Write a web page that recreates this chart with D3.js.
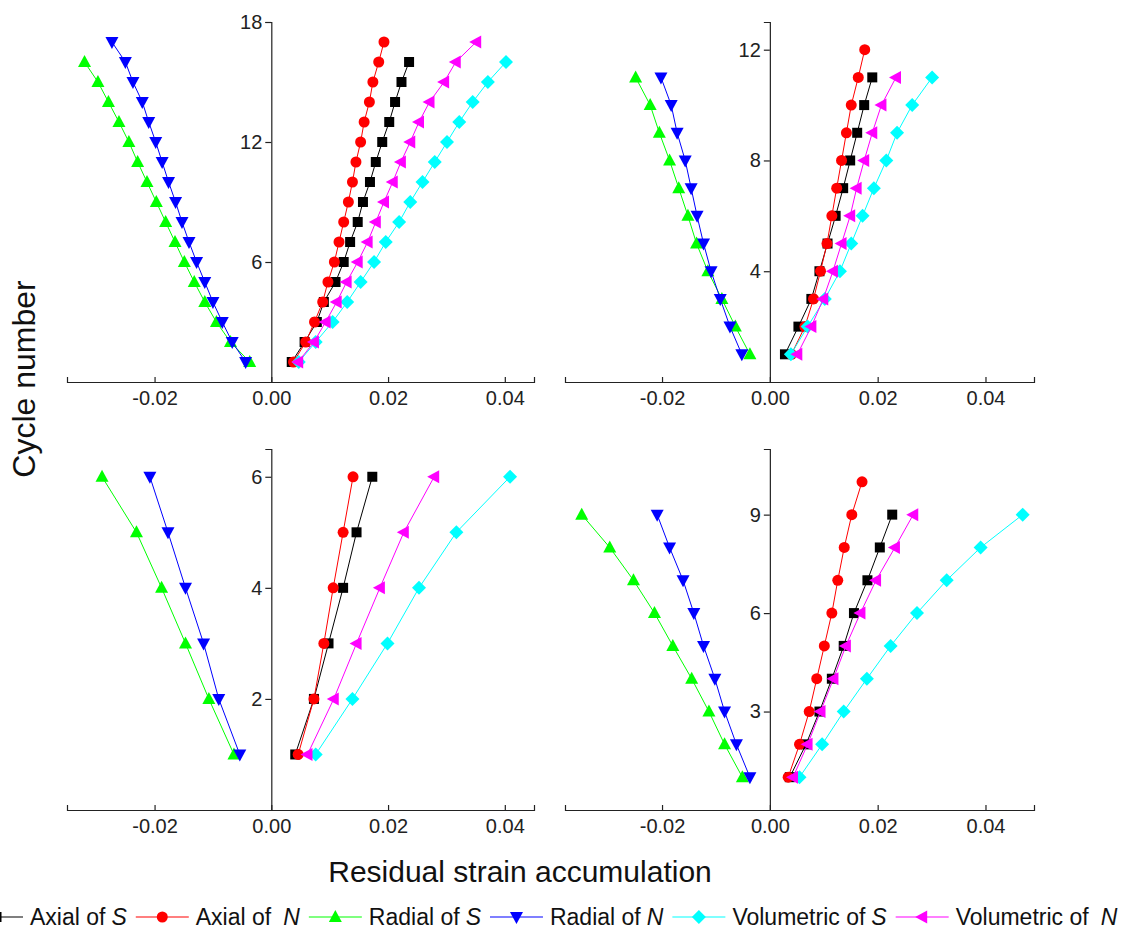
<!DOCTYPE html>
<html>
<head>
<meta charset="utf-8">
<script src="https://cdn.jsdelivr.net/npm/d3@7"></script>
<style>
  body { margin: 0; background: #fff; }
  svg { display: block; font-family: "Liberation Sans", Arial, sans-serif; }
</style>
</head>
<body>
<div id="container"></div>
<script>
// series order: Axial of S, Axial of N, Radial of S, Radial of N, Volumetric of S, Volumetric of N
var seriesLabels = [["Axial of", "S", 0], ["Axial of", "N", 6], ["Radial of", "S", 0], ["Radial of", "N", 0], ["Volumetric of", "S", 0], ["Volumetric of", "N", 6]];
var seriesColors = ["#000000", "#ff0000", "#00ff00", "#0000ff", "#00ffff", "#ff00ff"];
var seriesMarkers = ["square", "circle", "up", "down", "diamond", "left"];

// panel a (top left), values for cycle 1..n
var axialS_a  = [0.0035, 0.0057, 0.0078, 0.0090, 0.0110, 0.0124, 0.0135, 0.0148, 0.0157, 0.0169, 0.0179, 0.0190, 0.0202, 0.0212, 0.0223, 0.0236];
var axialN_a  = [0.0038, 0.0059, 0.0074, 0.0088, 0.0097, 0.0108, 0.0116, 0.0124, 0.0132, 0.0139, 0.0145, 0.0153, 0.0159, 0.0168, 0.0174, 0.0184, 0.0193];
var radialS_a = [-0.0037, -0.0070, -0.0094, -0.0114, -0.0132, -0.0149, -0.0165, -0.0181, -0.0197, -0.0213, -0.0229, -0.0244, -0.0261, -0.0279, -0.0297, -0.0320];
var radialN_a = [-0.0044, -0.0067, -0.0084, -0.0100, -0.0114, -0.0128, -0.0141, -0.0153, -0.0164, -0.0176, -0.0187, -0.0198, -0.0210, -0.0221, -0.0237, -0.0250, -0.0273];
var volS_a    = [0.0047, 0.0076, 0.0105, 0.0130, 0.0153, 0.0176, 0.0196, 0.0219, 0.0238, 0.0259, 0.0280, 0.0301, 0.0322, 0.0345, 0.0371, 0.0402];
var volN_a    = [0.0046, 0.0073, 0.0093, 0.0112, 0.0129, 0.0148, 0.0165, 0.0179, 0.0193, 0.0208, 0.0222, 0.0238, 0.0253, 0.0271, 0.0296, 0.0316, 0.0351];

// panel b (top right)
var axialS_b  = [0.0028, 0.0053, 0.0077, 0.0092, 0.0107, 0.0122, 0.0136, 0.0149, 0.0162, 0.0175, 0.0190];
var axialN_b  = [0.0040, 0.0065, 0.0081, 0.0094, 0.0106, 0.0115, 0.0124, 0.0133, 0.0142, 0.0151, 0.0164, 0.0176];
var radialS_b = [-0.0037, -0.0064, -0.0089, -0.0115, -0.0136, -0.0152, -0.0169, -0.0186, -0.0205, -0.0222, -0.0249];
var radialN_b = [-0.0052, -0.0074, -0.0092, -0.0109, -0.0123, -0.0135, -0.0146, -0.0157, -0.0172, -0.0183, -0.0202];
var volS_b    = [0.0039, 0.0070, 0.0102, 0.0130, 0.0151, 0.0172, 0.0193, 0.0216, 0.0236, 0.0264, 0.0301];
var volN_b    = [0.0051, 0.0077, 0.0099, 0.0117, 0.0133, 0.0149, 0.0161, 0.0175, 0.0190, 0.0207, 0.0234];

// panel c (bottom left)
var axialS_c  = [0.0041, 0.0073, 0.0098, 0.0123, 0.0146, 0.0173];
var axialN_c  = [0.0046, 0.0073, 0.0090, 0.0106, 0.0123, 0.0140];
var radialS_c = [-0.0064, -0.0107, -0.0147, -0.0188, -0.0231, -0.0290];
var radialN_c = [-0.0054, -0.0090, -0.0116, -0.0147, -0.0177, -0.0208];
var volS_c    = [0.0076, 0.0139, 0.0199, 0.0253, 0.0317, 0.0409];
var volN_c    = [0.0062, 0.0107, 0.0146, 0.0186, 0.0227, 0.0279];

// panel d (bottom right)
var axialS_d  = [0.0037, 0.0067, 0.0092, 0.0115, 0.0137, 0.0156, 0.0181, 0.0204, 0.0227];
var axialN_d  = [0.0034, 0.0055, 0.0073, 0.0087, 0.0101, 0.0115, 0.0126, 0.0138, 0.0152, 0.0171];
var radialS_d = [-0.0051, -0.0084, -0.0113, -0.0145, -0.0180, -0.0214, -0.0253, -0.0297, -0.0349];
var radialN_d = [-0.0037, -0.0062, -0.0084, -0.0102, -0.0123, -0.0141, -0.0161, -0.0186, -0.0209];
var volS_d    = [0.0055, 0.0097, 0.0137, 0.0180, 0.0224, 0.0273, 0.0328, 0.0391, 0.0469];
var volN_d    = [0.0043, 0.0070, 0.0094, 0.0118, 0.0141, 0.0168, 0.0197, 0.0232, 0.0266];

// axis ticks
var xTicks = [-0.02, 0, 0.02, 0.04];
var yTicks_a = [6, 12, 18];
var yTicks_b = [4, 8, 12];
var yTicks_c = [2, 4, 6];
var yTicks_d = [3, 6, 9];

//Svg Initialization
var w = 1129;
var h = 930;
var svg = d3.select("div#container").append("svg")
    .attr("width", w).attr("height", h)
    .style("background-color", "white");

// panel layout (pixel boxes + axis ranges)
var panels = [
  {series: [axialS_a, axialN_a, radialS_a, radialN_a, volS_a, volN_a], yTicks: yTicks_a,
   xDomain: [-0.035, 0.045], yDomain: [0, 18], xRange: [67, 534], yRange: [382, 22]},
  {series: [axialS_b, axialN_b, radialS_b, radialN_b, volS_b, volN_b], yTicks: yTicks_b,
   xDomain: [-0.038, 0.049], yDomain: [0, 13], xRange: [565, 1034], yRange: [382, 22]},
  {series: [axialS_c, axialN_c, radialS_c, radialN_c, volS_c, volN_c], yTicks: yTicks_c,
   xDomain: [-0.035, 0.045], yDomain: [0, 6.5], xRange: [67, 534], yRange: [810, 449]},
  {series: [axialS_d, axialN_d, radialS_d, radialN_d, volS_d, volN_d], yTicks: yTicks_d,
   xDomain: [-0.038, 0.049], yDomain: [0, 11], xRange: [565, 1034], yRange: [810, 449]}
];

//marker shapes centred on 0,0
function markerPath(type) {
  switch (type) {
    case "square": return "M-5,-5H5V5H-5Z";
    case "circle": return "M5.5,0A5.5,5.5 0 1,1 -5.5,0A5.5,5.5 0 1,1 5.5,0Z";
    case "up": return "M0,-7L6.5,5L-6.5,5Z";
    case "down": return "M0,7L6.5,-5L-6.5,-5Z";
    case "left": return "M-7,0L5,-6.5L5,6.5Z";
    case "diamond": return "M0,-7L7,0L0,7L-7,0Z";
  }
}

panels.forEach(function(p) {
  var x = d3.scaleLinear().domain(p.xDomain).range(p.xRange);
  var y = d3.scaleLinear().domain(p.yDomain).range(p.yRange);
  var g = svg.append("g");

  //x axis sits on y = 0, ticks point up
  var xa = g.append("g")
      .attr("transform", "translate(0," + y(0) + ")")
      .call(d3.axisBottom(x).tickValues(xTicks)
        .tickSizeInner(-5).tickSizeOuter(-5).tickPadding(9)
        .tickFormat(function(d) { return d.toFixed(2); }));
  //y axis sits on x = 0, ticks point out
  var ya = g.append("g")
      .attr("transform", "translate(" + x(0) + ",0)")
      .call(d3.axisLeft(y).tickValues(p.yTicks)
        .tickSizeInner(6).tickSizeOuter(6).tickPadding(3)
        .tickFormat(d3.format("d")));

  [xa, ya].forEach(function(a) {
    a.selectAll("path, line").attr("stroke", "#222").attr("stroke-width", 1.2);
    a.selectAll("text").attr("font-size", 20).attr("fill", "#222")
      .attr("font-family", "'Liberation Sans', Arial, sans-serif");
  });

  var line = d3.line()
      .x(function(d) { return x(d); })
      .y(function(d, i) { return y(i + 1); });

  p.series.forEach(function(vals, k) {
    g.append("path")
      .datum(vals)
      .attr("fill", "none")
      .attr("stroke", seriesColors[k])
      .attr("stroke-width", 1)
      .attr("d", line);
    g.append("g").selectAll("path")
      .data(vals)
      .enter().append("path")
      .attr("transform", function(d, i) { return "translate(" + x(d) + "," + y(i + 1) + ")"; })
      .attr("d", markerPath(seriesMarkers[k]))
      .attr("fill", seriesColors[k]);
  });
});

//axis titles
svg.append("text")
    .attr("x", 520).attr("y", 882)
    .attr("text-anchor", "middle")
    .attr("font-size", 30).attr("fill", "#111")
    .text("Residual strain accumulation");
svg.append("text")
    .attr("transform", "translate(35,379) rotate(-90)")
    .attr("text-anchor", "middle")
    .attr("font-size", 32).attr("fill", "#111")
    .text("Cycle number");

//legend: line + marker, then label; the first line runs off the left edge like the original
var legend = svg.append("g").attr("transform", "translate(0,917)");
var lx = -30;
seriesLabels.forEach(function(lab, k) {
  legend.append("line")
    .attr("x1", lx).attr("x2", lx + 53).attr("y1", 0).attr("y2", 0)
    .attr("stroke", seriesColors[k]).attr("stroke-width", 1.2);
  legend.append("path")
    .attr("transform", "translate(" + (lx + 26.5) + ",0)")
    .attr("d", markerPath(seriesMarkers[k]))
    .attr("fill", seriesColors[k]);
  var t = legend.append("text")
    .attr("x", lx + 60).attr("y", 7.5)
    .attr("font-size", 23).attr("fill", "#111");
  t.append("tspan").text(lab[0]);
  t.append("tspan").attr("dx", 6 + lab[2]).attr("font-style", "italic").text(lab[1]);
  lx = lx + 60 + t.node().getComputedTextLength() + lab[2] + 15;
});
</script>
</body>
</html>
